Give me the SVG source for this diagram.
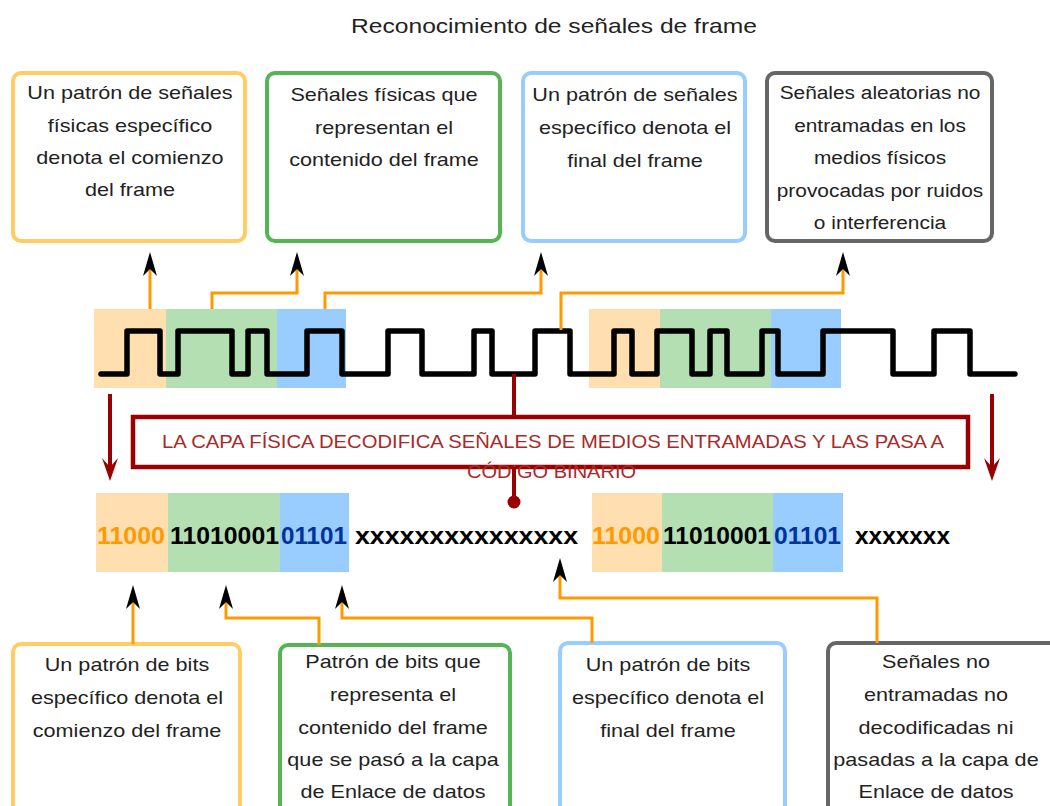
<svg xmlns="http://www.w3.org/2000/svg" width="1050" height="806" viewBox="0 0 1050 806">
<style>
.t{font-family:"Liberation Sans",Arial,sans-serif;font-size:18px;fill:#222;text-anchor:middle}
.title{font-family:"Liberation Sans",Arial,sans-serif;font-size:20.5px;fill:#222;text-anchor:middle}
.box{fill:#fff;stroke-width:4}
.bo{stroke:#FFCC66}.bg{stroke:#55B555}.bb{stroke:#99CCFF}.bk{stroke:#666}
.fo{fill:#FFDFB0}.fg{fill:#B3DFB3}.fb{fill:#99CCFF}
.con{fill:none;stroke:#FF9900;stroke-width:3;marker-end:url(#ah)}
.red{fill:none;stroke:#990000;stroke-width:4}
.bits{font-family:"Liberation Sans",Arial,sans-serif;font-size:24px;font-weight:bold}
.rt{font-family:"Liberation Sans",Arial,sans-serif;font-size:18px;fill:#AA2828}
</style>
<defs>
<marker id="ah" markerUnits="userSpaceOnUse" markerWidth="30" markerHeight="20" viewBox="-26 -10 30 20" refX="-12" refY="0" orient="auto" overflow="visible">
<path d="M0,0 L-24,-7 L-17,0 L-24,7 Z" fill="#000"/>
</marker>
<marker id="rh" markerUnits="userSpaceOnUse" markerWidth="30" markerHeight="20" viewBox="-26 -10 30 20" refX="-12" refY="0" orient="auto" overflow="visible">
<path d="M0,0 L-23,-8 L-14,0 L-23,8 Z" fill="#990000"/>
</marker>
</defs>
<rect width="1050" height="806" fill="#fff"/>
<text class="title" transform="translate(554,0) scale(1.2,1)" x="0" y="33">Reconocimiento de señales de frame</text>

<g id="top1"><rect class="box bo" x="13" y="73" width="232" height="168" rx="8"/>
<g transform="translate(130,0) scale(1.2,1)"><text class="t" x="0" y="99">Un patrón de señales</text><text class="t" x="0" y="132">físicas específico</text><text class="t" x="0" y="164">denota el comienzo</text><text class="t" x="0" y="196">del frame</text></g></g>
<g id="top2"><rect class="box bg" x="267" y="73" width="233" height="168" rx="8"/>
<g transform="translate(384,0) scale(1.2,1)"><text class="t" x="0" y="101">Señales físicas que</text><text class="t" x="0" y="134">representan el</text><text class="t" x="0" y="166">contenido del frame</text></g></g>
<g id="top3"><rect class="box bb" x="523" y="73" width="222" height="168" rx="8"/>
<g transform="translate(635,0) scale(1.2,1)"><text class="t" x="0" y="101">Un patrón de señales</text><text class="t" x="0" y="134">específico denota el</text><text class="t" x="0" y="167">final del frame</text></g></g>
<g id="top4"><rect class="box bk" x="767" y="73" width="225" height="168" rx="8"/>
<g transform="translate(880,0) scale(1.16,1)"><text class="t" x="0" y="99">Señales aleatorias no</text><text class="t" x="0" y="132">entramadas en los</text><text class="t" x="0" y="164">medios físicos</text><text class="t" x="0" y="197">provocadas por ruidos</text><text class="t" x="0" y="229">o interferencia</text></g></g>

<g id="signal">
<rect class="fo" x="94" y="309" width="72" height="79"/><rect class="fg" x="166" y="309" width="111" height="79"/><rect class="fb" x="277" y="309" width="69" height="79"/>
<rect class="fo" x="589" y="309" width="71" height="79"/><rect class="fg" x="660" y="309" width="111" height="79"/><rect class="fb" x="771" y="309" width="70" height="79"/>
<path d="M101,374 H127 V331 H160 V374 H178 V331 H232 V374 H248 V331 H267 V374 H307 V331 H342 V374 H388 V331 H422 V374 H474 V331 H492 V374 H535 V331 H570 V374 H614 V331 H632 V374 H657 V331 H692 V374 H710 V331 H727 V374 H762 V331 H778 V374 H823 V331 H893 V374 H934 V331 H970 V374 H1015" fill="none" stroke="#000" stroke-width="5.5" stroke-linejoin="round" stroke-linecap="round"/>
</g>

<g id="decode">
<rect x="133" y="417" width="835" height="50" fill="#fff" stroke="#990000" stroke-width="4.5"/>
<text class="rt" x="162" y="448" textLength="782" lengthAdjust="spacingAndGlyphs">LA CAPA FÍSICA DECODIFICA SEÑALES DE MEDIOS ENTRAMADAS Y LAS PASA A</text>
<text class="rt" x="467" y="478" textLength="169" lengthAdjust="spacingAndGlyphs">CÓDIGO BINARIO</text>
</g>

<g id="bits">
<rect class="fo" x="96" y="493" width="72" height="79"/><rect class="fg" x="168" y="493" width="112" height="79"/><rect class="fb" x="280" y="493" width="69" height="79"/>
<rect class="fo" x="592" y="493" width="70" height="79"/><rect class="fg" x="662" y="493" width="111" height="79"/><rect class="fb" x="773" y="493" width="70" height="79"/>
<text class="bits" x="97" y="544" textLength="68" lengthAdjust="spacingAndGlyphs" fill="#FF9900">11000</text>
<text class="bits" x="170" y="544" textLength="109" lengthAdjust="spacingAndGlyphs" fill="#000">11010001</text>
<text class="bits" x="281" y="544" textLength="66" lengthAdjust="spacingAndGlyphs" fill="#003399">01101</text>
<text class="bits" x="355" y="544" textLength="223" lengthAdjust="spacingAndGlyphs" fill="#000">xxxxxxxxxxxxxxx</text>
<text class="bits" x="592" y="544" textLength="68" lengthAdjust="spacingAndGlyphs" fill="#FF9900">11000</text>
<text class="bits" x="663" y="544" textLength="108" lengthAdjust="spacingAndGlyphs" fill="#000">11010001</text>
<text class="bits" x="774" y="544" textLength="67" lengthAdjust="spacingAndGlyphs" fill="#003399">01101</text>
<text class="bits" x="855" y="544" textLength="95" lengthAdjust="spacingAndGlyphs" fill="#000">xxxxxxx</text>
</g>

<g id="bot1"><rect class="box bo" x="13" y="644" width="227" height="190" rx="8"/>
<g transform="translate(127,0) scale(1.2,1)"><text class="t" x="0" y="671">Un patrón de bits</text><text class="t" x="0" y="704">específico denota el</text><text class="t" x="0" y="737">comienzo del frame</text></g></g>
<g id="bot2"><rect class="box bg" x="280" y="645" width="230" height="190" rx="8"/>
<g transform="translate(393,0) scale(1.2,1)"><text class="t" x="0" y="668">Patrón de bits que</text><text class="t" x="0" y="701">representa el</text><text class="t" x="0" y="734">contenido del frame</text><text class="t" x="0" y="766">que se pasó a la capa</text><text class="t" x="0" y="798">de Enlace de datos</text></g></g>
<g id="bot3"><rect class="box bb" x="560" y="643" width="225" height="190" rx="8"/>
<g transform="translate(668,0) scale(1.2,1)"><text class="t" x="0" y="671">Un patrón de bits</text><text class="t" x="0" y="704">específico denota el</text><text class="t" x="0" y="737">final del frame</text></g></g>
<g id="bot4"><rect class="box bk" x="828" y="643" width="232" height="190" rx="8"/>
<g transform="translate(936,0) scale(1.2,1)"><text class="t" x="0" y="668">Señales no</text><text class="t" x="0" y="701">entramadas no</text><text class="t" x="0" y="734">decodificadas ni</text><text class="t" x="0" y="766">pasadas a la capa de</text><text class="t" x="0" y="798">Enlace de datos</text></g></g>

<g id="connectors">
<path class="con" d="M150,309 V264"/>
<path class="con" d="M212,309 V293 H297 V264"/>
<path class="con" d="M325,309 V293 H541 V264"/>
<path class="con" d="M561,330 V293 H843 V264"/>
<path class="con" d="M133,644 V597"/>
<path class="con" d="M319,645 V618 H226 V597"/>
<path class="con" d="M592,643 V618 H342 V597"/>
<path class="con" d="M877,643 V598 H560 V570"/>
<path class="red" d="M110,394 V469" marker-end="url(#rh)"/>
<path class="red" d="M992,394 V469" marker-end="url(#rh)"/>
<path class="red" d="M514,374 V417 M514,467 V500"/>
<circle cx="514" cy="502" r="6.5" fill="#990000"/>
</g>
</svg>
